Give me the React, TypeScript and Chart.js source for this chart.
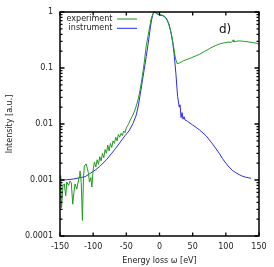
import React, { useEffect, useRef } from 'react';
import { Chart, registerables } from 'chart.js';
Chart.register(...registerables);

const expEnergy = [
  -150, -149, -147.7, -145.5, -143.5, -141.4, -139.8, -137, -135, -133, -130.8, -129, -127.3, -124.7, -122.3,
  -120.5, -119.7, -118, -116.2, -114.5, -113.2, -110.6, -108.6, -107, -105.6, -103.5, -102, -100.5, -99.5,
  -98, -96, -94, -92, -90, -88, -86, -84, -82, -80, -78, -76, -74, -72, -70, -68, -66, -64, -62, -60,
  -58, -56, -54, -52, -50, -47, -44, -41, -38, -35, -32, -29, -26, -23, -20, -16, -13, -10, -8, -6, -4,
  -1, 2, 5, 8, 12, 15, 18, 21, 24, 26.5, 28, 30, 33, 36, 40, 44, 48, 52, 56, 60, 64, 68, 72, 76, 80, 84,
  88, 92, 96, 100, 104, 108, 110, 111, 112, 116, 120, 124, 128, 132, 136, 140, 144, 148, 150,
];
const expIntensity = [
  0.0009, 0.0012, 0.00032, 0.0008, 0.00085, 0.00052, 0.00092, 0.0008, 0.00096, 0.0009, 0.00037, 0.0006,
  0.00085, 0.00069, 0.00096, 0.0012, 0.00145, 0.0009, 0.00019, 0.0012, 0.00178, 0.00194, 0.00158, 0.0013,
  0.00092, 0.0011, 0.00075, 0.0013, 0.0017, 0.0021, 0.0017, 0.0023, 0.0019, 0.0026, 0.0022, 0.003, 0.0025,
  0.0035, 0.003, 0.0042, 0.0033, 0.0045, 0.0038, 0.005, 0.0045, 0.0058, 0.005, 0.0065, 0.0058, 0.0068,
  0.0062, 0.0075, 0.007, 0.0085, 0.0098, 0.0118, 0.0138, 0.0165, 0.021, 0.028, 0.042, 0.07, 0.125, 0.25,
  0.45, 0.72, 0.93, 1.0, 0.97, 0.93, 0.91, 0.89, 0.87, 0.83, 0.7, 0.55, 0.4, 0.25, 0.15, 0.12, 0.12, 0.123,
  0.128, 0.135, 0.14, 0.146, 0.152, 0.16, 0.167, 0.175, 0.186, 0.198, 0.21, 0.224, 0.238, 0.25, 0.262,
  0.272, 0.279, 0.285, 0.29, 0.288, 0.298, 0.318, 0.293, 0.3, 0.305, 0.302, 0.298, 0.295, 0.29, 0.285,
  0.28, 0.272, 0.27,
];

const insEnergy = [
  -150, -140, -130, -120, -112, -105, -97, -90, -80, -72, -66, -60, -52, -46, -40, -35, -32, -29, -26, -23,
  -20, -17, -14, -12, -10, -8, -6, -3, 0, 5, 10, 14, 17, 20, 22, 24.7, 27.3, 29.8, 31, 32.5, 34, 35.5, 37,
  38.5, 42, 50, 60, 70, 80, 90, 95, 100, 105, 110, 115, 120, 125, 130, 135, 138,
];
const insIntensity = [
  0.001, 0.00101, 0.00104, 0.0011, 0.00115, 0.0013, 0.0015, 0.00175, 0.0023, 0.003, 0.0037, 0.0046,
  0.0062, 0.0075, 0.0102, 0.0145, 0.021, 0.034, 0.057, 0.095, 0.16, 0.28, 0.5, 0.72, 0.9, 1.0, 0.98, 0.92,
  0.88, 0.86, 0.78, 0.62, 0.45, 0.28, 0.18, 0.08, 0.031, 0.02, 0.022, 0.013, 0.016, 0.0122, 0.0135, 0.0118,
  0.0112, 0.0096, 0.0079, 0.0062, 0.0044, 0.003, 0.0024, 0.002, 0.0017, 0.00148, 0.00135, 0.00125, 0.00117,
  0.00112, 0.00109, 0.00107,
];

const xTickValues = [-150, -100, -50, 0, 50, 100, 150];
const yTickValues = [0.0001, 0.001, 0.01, 0.1, 1];
const yTickLabels = ['0.0001', '0.001', '0.01', '0.1', '1'];
const seriesNames = ['experiment', 'instrument'];
const seriesColors = ['#1f9a1f', '#2b2be8'];
const panelLabel = 'd)';
const xTitle = 'Energy loss ω [eV]';
const yTitle = 'Intensity [a.u.]';

const FONT = 'DejaVu Sans';
const TEXT = '#222';

const framePlugin = {
  id: 'gnuframe',
  afterDraw(chart: any) {
    const { ctx, chartArea } = chart;
    const { left, right, top, bottom } = chartArea;
    const xs = chart.scales.x;
    const ys = chart.scales.y;
    ctx.save();
    ctx.strokeStyle = '#000';
    ctx.lineWidth = 1.3;
    ctx.beginPath();
    xTickValues.forEach((v) => {
      const px = xs.getPixelForValue(v);
      ctx.moveTo(px, bottom);
      ctx.lineTo(px, bottom - 3.5);
      ctx.moveTo(px, top);
      ctx.lineTo(px, top + 3.5);
    });
    for (let d = -4; d <= 0; d++) {
      const py = ys.getPixelForValue(Math.pow(10, d));
      ctx.moveTo(left, py);
      ctx.lineTo(left + 4.5, py);
      ctx.moveTo(right, py);
      ctx.lineTo(right - 4.5, py);
      if (d < 0) {
        for (let k = 2; k <= 9; k++) {
          const pm = ys.getPixelForValue(k * Math.pow(10, d));
          ctx.moveTo(left, pm);
          ctx.lineTo(left + 2.5, pm);
          ctx.moveTo(right, pm);
          ctx.lineTo(right - 2.5, pm);
        }
      }
    }
    ctx.stroke();
    ctx.lineWidth = 1.5;
    ctx.strokeRect(left, top, right - left, bottom - top);

    // legend
    ctx.font = `8px "${FONT}"`;
    ctx.fillStyle = TEXT;
    ctx.textAlign = 'right';
    ctx.textBaseline = 'middle';
    seriesNames.forEach((name, i) => {
      const y = top + 7 + i * 9.3;
      ctx.fillText(name, left + 52.5, y);
      ctx.strokeStyle = seriesColors[i];
      ctx.lineWidth = 1;
      ctx.beginPath();
      ctx.moveTo(left + 57, y);
      ctx.lineTo(left + 77, y);
      ctx.stroke();
    });

    ctx.font = `12px "${FONT}"`;
    ctx.fillStyle = '#111';
    ctx.textAlign = 'left';
    ctx.textBaseline = 'alphabetic';
    ctx.fillText(panelLabel, 219, 32.5);
    ctx.restore();
  },
};

export default function App() {
  const ref = useRef<HTMLCanvasElement>(null);
  useEffect(() => {
    if (!ref.current) return;
    const font = { family: FONT, size: 8 };
    const chart = new Chart(ref.current, {
      type: 'line',
      data: {
        datasets: [
          {
            label: seriesNames[0],
            data: expEnergy.map((x, i) => ({ x, y: expIntensity[i] })),
            borderColor: seriesColors[0],
            borderWidth: 1,
            pointRadius: 0,
            tension: 0,
            fill: false,
            clip: 3,
          },
          {
            label: seriesNames[1],
            data: insEnergy.map((x, i) => ({ x, y: insIntensity[i] })),
            borderColor: seriesColors[1],
            borderWidth: 1,
            pointRadius: 0,
            tension: 0,
            fill: false,
            clip: 3,
          },
        ],
      },
      options: {
        animation: false,
        responsive: false,
        devicePixelRatio: 1,
        layout: { padding: { left: 0, right: 15, top: 12, bottom: 0 } },
        plugins: { legend: { display: false }, tooltip: { enabled: false } },
        scales: {
          x: {
            type: 'linear',
            min: -150,
            max: 150,
            afterBuildTicks: (s: any) => {
              s.ticks = xTickValues.map((v) => ({ value: v }));
            },
            afterFit: (s: any) => {
              s.height = 31;
            },
            grid: { display: false, drawTicks: false },
            border: { display: false },
            ticks: { font, color: TEXT, padding: 6, maxRotation: 0, autoSkip: false },
            title: { display: true, text: xTitle, font, color: TEXT, padding: { top: 0, bottom: 1.5 } },
          },
          y: {
            type: 'logarithmic',
            min: 0.0001,
            max: 1,
            afterBuildTicks: (s: any) => {
              s.ticks = yTickValues.map((v) => ({ value: v }));
            },
            afterFit: (s: any) => {
              s.width = 60;
            },
            grid: { display: false, drawTicks: false },
            border: { display: false },
            ticks: {
              font,
              color: TEXT,
              padding: 7,
              autoSkip: false,
              callback: (_v: any, i: number) => yTickLabels[i],
            },
            title: { display: true, text: yTitle, font, color: TEXT, padding: { top: 5, bottom: 0 } },
          },
        },
      },
      plugins: [framePlugin],
    } as any);
    return () => chart.destroy();
  }, []);
  return (
    <div style={{ position: 'fixed', left: 0, top: 0, width: 274, height: 267, background: '#fff' }}>
      <canvas ref={ref} width={274} height={267} style={{ width: 274, height: 267 }} />
    </div>
  );
}
